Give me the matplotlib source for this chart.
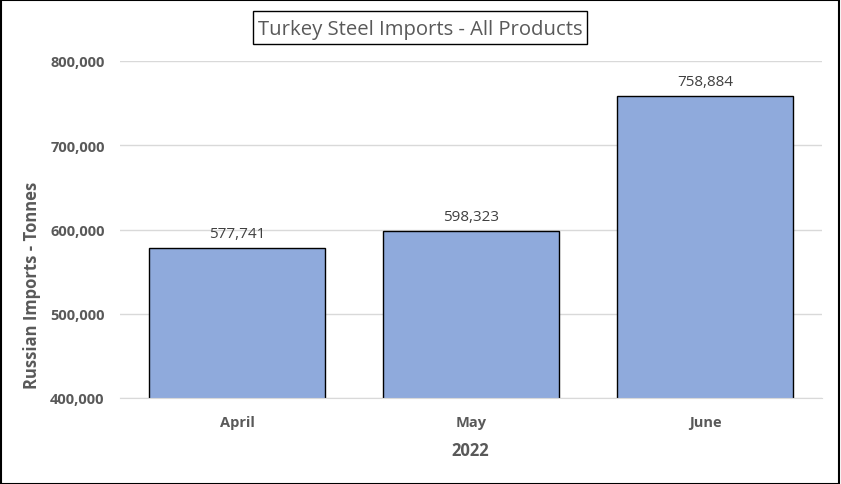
import matplotlib
matplotlib.use("Agg")
import matplotlib.pyplot as plt
from matplotlib.patches import Rectangle
from matplotlib.ticker import FuncFormatter

months = ["April", "May", "June"]
imports = [577741, 598323, 758884]
yticks = [400000, 500000, 600000, 700000, 800000]

plt.rcParams['font.family'] = ['Open Sans', 'DejaVu Sans']

W, H = 841, 485
fig = plt.figure(figsize=(W/100, H/100), dpi=100)
ax = fig.add_axes([120/W, 1-399/H, (822-120)/W, (399-62)/H])

x = range(len(months))
ax.bar(x, imports, width=0.75, color="#8FAADC", edgecolor="black", linewidth=1.0, zorder=3)
ax.set_xlim(-0.5, 2.5)
ax.set_ylim(400000, 800000)
ax.set_yticks(yticks)
ax.yaxis.set_major_formatter(FuncFormatter(lambda v, p: f"{int(v):,}"))
ax.set_xticks(list(x))
ax.set_xticklabels(months)
ax.grid(axis='y', color="#D9D9D9", linewidth=1.0, zorder=0)
for s in ["top", "right", "left"]:
    ax.spines[s].set_visible(False)
ax.spines["bottom"].set_color("#D9D9D9")
ax.spines["bottom"].set_zorder(4)
ax.tick_params(length=0, colors="#595959", labelsize=10.5)
ax.tick_params(axis='y', pad=11)
ax.tick_params(axis='x', pad=12)
for lab in ax.get_xticklabels() + ax.get_yticklabels():
    lab.set_fontweight('bold')

for xi, v in zip(x, imports):
    ax.annotate(f"{v:,}", (xi, v), xytext=(0, 8), textcoords="offset points",
                ha="center", va="baseline", fontsize=11, color="#404040")

fig.text(470/W, 1-451/H, "2022", ha="center", va="center",
         fontsize=12, fontweight='bold', color="#595959")
fig.text(32/W, 1-285/H, "Russian Imports - Tonnes", ha="center", va="center", rotation=90,
         fontsize=12, fontweight='bold', color="#595959")

fig.patches.append(Rectangle((252.5/W, 1-44.5/H), (587-252.5)/W, (44.5-12)/H,
                             transform=fig.transFigure, facecolor="white",
                             edgecolor="black", linewidth=1.0))
fig.text(420/W, 1-30/H, "Turkey Steel Imports - All Products", ha="center", va="center",
         fontsize=14.6, color="#595959")

fig.patches.append(Rectangle((0.001, 0.001), 0.997, 0.997, transform=fig.transFigure,
                             fill=False, edgecolor="black", linewidth=1.5))

fig.savefig("out.png", dpi=100)
